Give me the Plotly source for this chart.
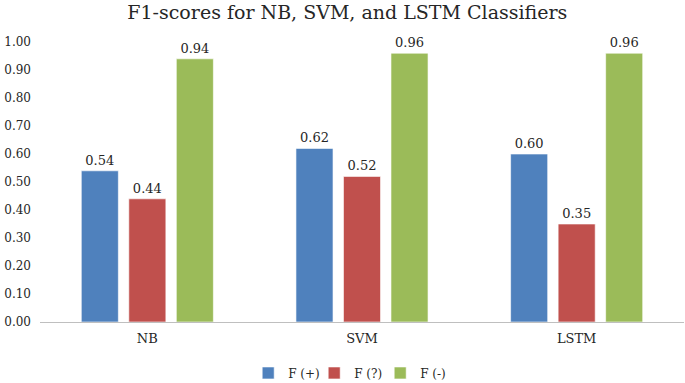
import plotly.graph_objects as go

categories = ["NB", "SVM", "LSTM"]
f_pos = [0.54, 0.62, 0.60]
f_unk = [0.44, 0.52, 0.35]
f_neg = [0.94, 0.96, 0.96]
series_names = ["F (+)", "F (?)", "F (-)"]
colors = ["#4F81BD", "#C0504D", "#9BBB59"]
tick_vals = [0, 0.1, 0.2, 0.3, 0.4, 0.5, 0.6, 0.7, 0.8, 0.9, 1.0]
tick_text = ["0.00", "0.10", "0.20", "0.30", "0.40", "0.50", "0.60", "0.70", "0.80", "0.90", "1.00"]

FONT = "DejaVu Serif"
fig = go.Figure()
for name, vals, col in zip(series_names, [f_pos, f_unk, f_neg], colors):
    fig.add_trace(go.Bar(
        x=categories, y=vals, name=name,
        marker=dict(color=col, line=dict(color="rgba(255,255,255,0.6)", width=1)),
        text=[f"{v:.2f}" for v in vals], textposition="outside",
        textfont=dict(family=FONT, size=13, color="#262626"),
        cliponaxis=False,
    ))

fig.update_layout(
    width=685, height=383,
    paper_bgcolor="white", plot_bgcolor="white",
    margin=dict(l=40, r=1, t=42, b=61, autoexpand=False),
    title=dict(text="F1-scores for NB, SVM, and LSTM Classifiers",
               x=0.507, xanchor="center", y=0.985, yanchor="top",
               font=dict(family=FONT, size=19, color="#262626")),
    barmode="group", bargap=0.336, bargroupgap=0.22,
    showlegend=True,
    legend=dict(orientation="h", x=0.477, xanchor="center", y=-0.182, yanchor="middle",
                font=dict(family=FONT, size=12, color="#262626"),
                itemwidth=30, entrywidth=21, entrywidthmode="pixels",
                traceorder="normal", tracegroupgap=0),
    font=dict(family=FONT, color="#262626"),
)
fig.update_xaxes(showline=True, linecolor="#BFBFBF", linewidth=1, ticks="",
                 automargin=False, ticklabelstandoff=4,
                 tickfont=dict(family=FONT, size=13, color="#262626"), showgrid=False)
fig.update_yaxes(range=[0, 1.0], tickvals=tick_vals, ticktext=tick_text, showgrid=False,
                 automargin=False,
                 zeroline=False, showline=False, ticks="", ticklabelstandoff=8,
                 tickfont=dict(family=FONT, size=12, color="#262626"))
fig.write_html("out.html", config={"displayModeBar": False},
               post_script="document.body.style.margin='0';")
